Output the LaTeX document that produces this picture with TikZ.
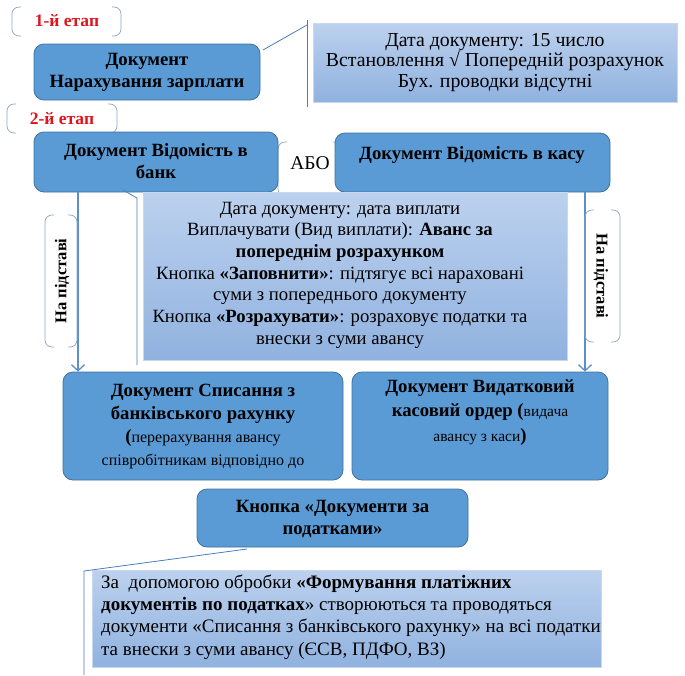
\documentclass[tikz,border=0pt]{standalone}
\usepackage{fontspec}
\setmainfont{Liberation Serif}
\usetikzlibrary{arrows.meta}
\definecolor{dkblue}{HTML}{5B9BD5}
\definecolor{dkbord}{HTML}{41719C}
\definecolor{lttop}{HTML}{BCD1EE}
\definecolor{ltbot}{HTML}{90B2DF}
\definecolor{ltbord}{HTML}{C8D8EE}
\definecolor{conn}{HTML}{4A7EBB}
\definecolor{arrc}{HTML}{5B8FCB}
\definecolor{brk}{HTML}{8EA6C4}
\definecolor{stage}{HTML}{E0141E}
\newcommand{\brkpair}[4]{%
  \draw[brk, line width=0.7pt, rounded corners=7pt] (#1+9,#2) -- (#1,#2) -- (#1,#4) -- (#1+9,#4);
  \draw[brk, line width=0.7pt, rounded corners=7pt] (#3-9,#2) -- (#3,#2) -- (#3,#4) -- (#3-9,#4);}
\begin{document}
\begin{tikzpicture}[x=1pt,y=-1pt,
  dbox/.style={draw=dkbord, fill=dkblue, rounded corners=10pt, line width=0.8pt, inner sep=0pt},
  lbox/.style={draw=ltbord, top color=lttop, bottom color=ltbot, line width=0.8pt, inner sep=0pt},
  btxt/.style={font=\bfseries\fontsize{18.7}{22}\selectfont, align=center, inner sep=0pt},
  rtxt/.style={font=\fontsize{18.7}{21.7}\selectfont, align=center, inner sep=0pt},
  stg/.style={font=\bfseries\fontsize{17.5}{18}\selectfont, text=stage, inner sep=0pt},
  callout/.style={draw=conn, line width=0.8pt},
  arr/.style={draw=arrc, line width=1.3pt, -{Straight Barb[length=6pt,width=13pt]}}]
\useasboundingbox (0,0) rectangle (685,675);

% stage labels
\brkpair{12}{7}{121}{36}
\node[stg] (st1) at (67,21) {1-й етап};
\brkpair{7}{104}{117}{133}
\node[stg] (st2) at (62,119) {2-й етап};

% stage 1
\node[dbox, minimum width=226pt, minimum height=56pt] (zp) at (147,72) {};
\node[btxt] (zpt) at (147,72) {Документ\\Нарахування зарплати};
\node[lbox, minimum width=364pt, minimum height=79pt] (inf1) at (495,62.5) {};
\node[rtxt, font=\fontsize{19.8}{20.5}\selectfont] (inf1t) at (495,62.5) {Дата документу: 15 число\\Встановлення √ Попередній розрахунок\\Бух. проводки відсутні};
\coordinate (c1a) at (263,50);
\coordinate (c1b) at (307,25);
\coordinate (c1t) at (307,20);
\coordinate (c1d) at (307,107);
\draw[callout] (c1a) -- (c1b);
\draw[callout] (c1t) -- (c1d);

% stage 2
\brkpair{278}{142}{342}{196}
\node[rtxt, font=\fontsize{19.5}{21}\selectfont] (abo) at (310,163) {АБО};
\node[dbox, minimum width=244pt, minimum height=60pt] (bank) at (156,162) {};
\node[btxt] (bankt) at (156,161) {Документ Відомість в\\банк};
\node[dbox, minimum width=275pt, minimum height=59pt] (kasa) at (472.5,162.5) {};
\node[btxt] (kasat) at (472,155) {Документ Відомість в касу};

\node[lbox, minimum width=424pt, minimum height=168pt] (inf2) at (355,276) {};
\node[rtxt] (inf2t) at (340,275) {Дата документу: дата виплати\\
Виплачувати (Вид виплати): \textbf{Аванс за}\\
\textbf{попереднім розрахунком}\\
Кнопка \textbf{«Заповнити»}: підтягує всі нараховані\\
суми з попереднього документу\\
Кнопка \textbf{«Розрахувати»}: розраховує податки та\\
внески з суми авансу};
\coordinate (c2a) at (123,190);
\coordinate (c2b) at (137,198);
\coordinate (c2d) at (137,365);
\draw[callout] (c2a) -- (c2b) -- (c2d);

% lower boxes
\node[dbox, minimum width=280pt, minimum height=108pt] (spys) at (203,426) {};
\node[btxt, font=\bfseries\fontsize{18.7}{23}\selectfont] (spyst) at (203,427) {Документ Списання з\\банківського рахунку\\
(\mdseries\fontsize{16}{23}\selectfont перерахування авансу\\
\mdseries\fontsize{16}{23}\selectfont співробітникам відповідно до};
\node[dbox, minimum width=256pt, minimum height=108pt] (vyd) at (480,426) {};
\node[btxt, font=\bfseries\fontsize{18.7}{24.5}\selectfont] (vydt) at (480,412.5) {Документ Видатковий\\
касовий ордер ({\mdseries\fontsize{15.5}{24}\selectfont видача}\\
{\mdseries\fontsize{15.5}{24}\selectfont авансу з каси})};

% arrows with "На підставі"
\draw[arr] (bank.south -| 78,0) -- (spys.north -| 78,0);
\draw[arr] (kasa.south -| 585,0) -- (vyd.north -| 585,0);
\brkpair{45}{215}{77}{347}
\node[btxt, rotate=90, font=\bfseries\fontsize{16.5}{18}\selectfont] (np1) at (62,281) {На підставі};
\brkpair{585}{210}{620}{342}
\node[btxt, rotate=-90, font=\bfseries\fontsize{16.5}{18}\selectfont] (np2) at (601,276) {На підставі};

% stage 3
\node[dbox, minimum width=271pt, minimum height=58pt] (knp) at (332.5,518) {};
\node[btxt] (knpt) at (332.5,519) {Кнопка «Документи за\\податками»};
\node[lbox, minimum width=509pt, minimum height=97pt] (inf3) at (346.5,618.5) {};
\node[rtxt, align=left, anchor=west, font=\fontsize{19}{22.3}\selectfont] (inf3t) at (101,617) {За\ \ допомогою обробки \textbf{«Формування платіжних}\\
\textbf{документів по податках}» створюються та проводяться\\
документи «Списання з банківського рахунку» на всі податки\\
та внески з суми авансу (ЄСВ, ПДФО, ВЗ)};
\coordinate (c3a) at (247,549);
\coordinate (c3b) at (84,571);
\coordinate (c3d) at (84,675);
\draw[callout] (c3a) -- (c3b) -- (c3d);
\end{tikzpicture}
\end{document}
